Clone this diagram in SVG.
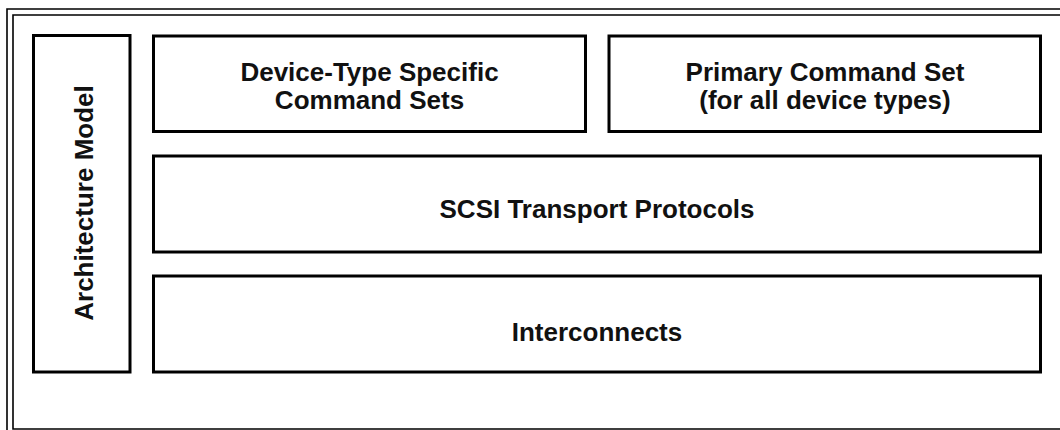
<svg xmlns="http://www.w3.org/2000/svg" width="1060" height="430" viewBox="0 0 1060 430">
<style>
.frame{fill:none;stroke:#000;stroke-width:1.6}
.box{fill:#fff;stroke:#000;stroke-width:3}
.lbl{font-family:"Liberation Sans",Arial,Helvetica,sans-serif;font-weight:bold;font-size:26px;fill:#111;text-anchor:middle}
</style>
<rect width="1060" height="430" fill="#fff"/>
<g id="frame">
<polyline class="frame" points="7,430 7,9 1060,9"/>
<polyline class="frame" points="1060,15 13,15 13,429 1060,429"/>
</g>
<g id="connectors"></g>
<g id="architecture-model">
<rect class="box" x="33.5" y="35.5" width="96.5" height="336.5"/>
<text class="lbl" transform="translate(92.5,203) rotate(-90)" x="0" y="0">Architecture Model</text>
</g>
<g id="device-type">
<rect class="box" x="153.5" y="36" width="432" height="95.5"/>
<text class="lbl" x="369.5" y="81">Device-Type Specific</text>
<text class="lbl" x="369.5" y="109">Command Sets</text>
</g>
<g id="primary">
<rect class="box" x="609" y="36" width="431.5" height="95.5"/>
<text class="lbl" x="825" y="81">Primary Command Set</text>
<text class="lbl" x="825" y="109">(for all device types)</text>
</g>
<g id="scsi-transport">
<rect class="box" x="153.5" y="156" width="887" height="96"/>
<text class="lbl" x="597" y="218">SCSI Transport Protocols</text>
</g>
<g id="interconnects">
<rect class="box" x="153.5" y="276" width="887" height="96"/>
<text class="lbl" x="597" y="341">Interconnects</text>
</g>
</svg>
